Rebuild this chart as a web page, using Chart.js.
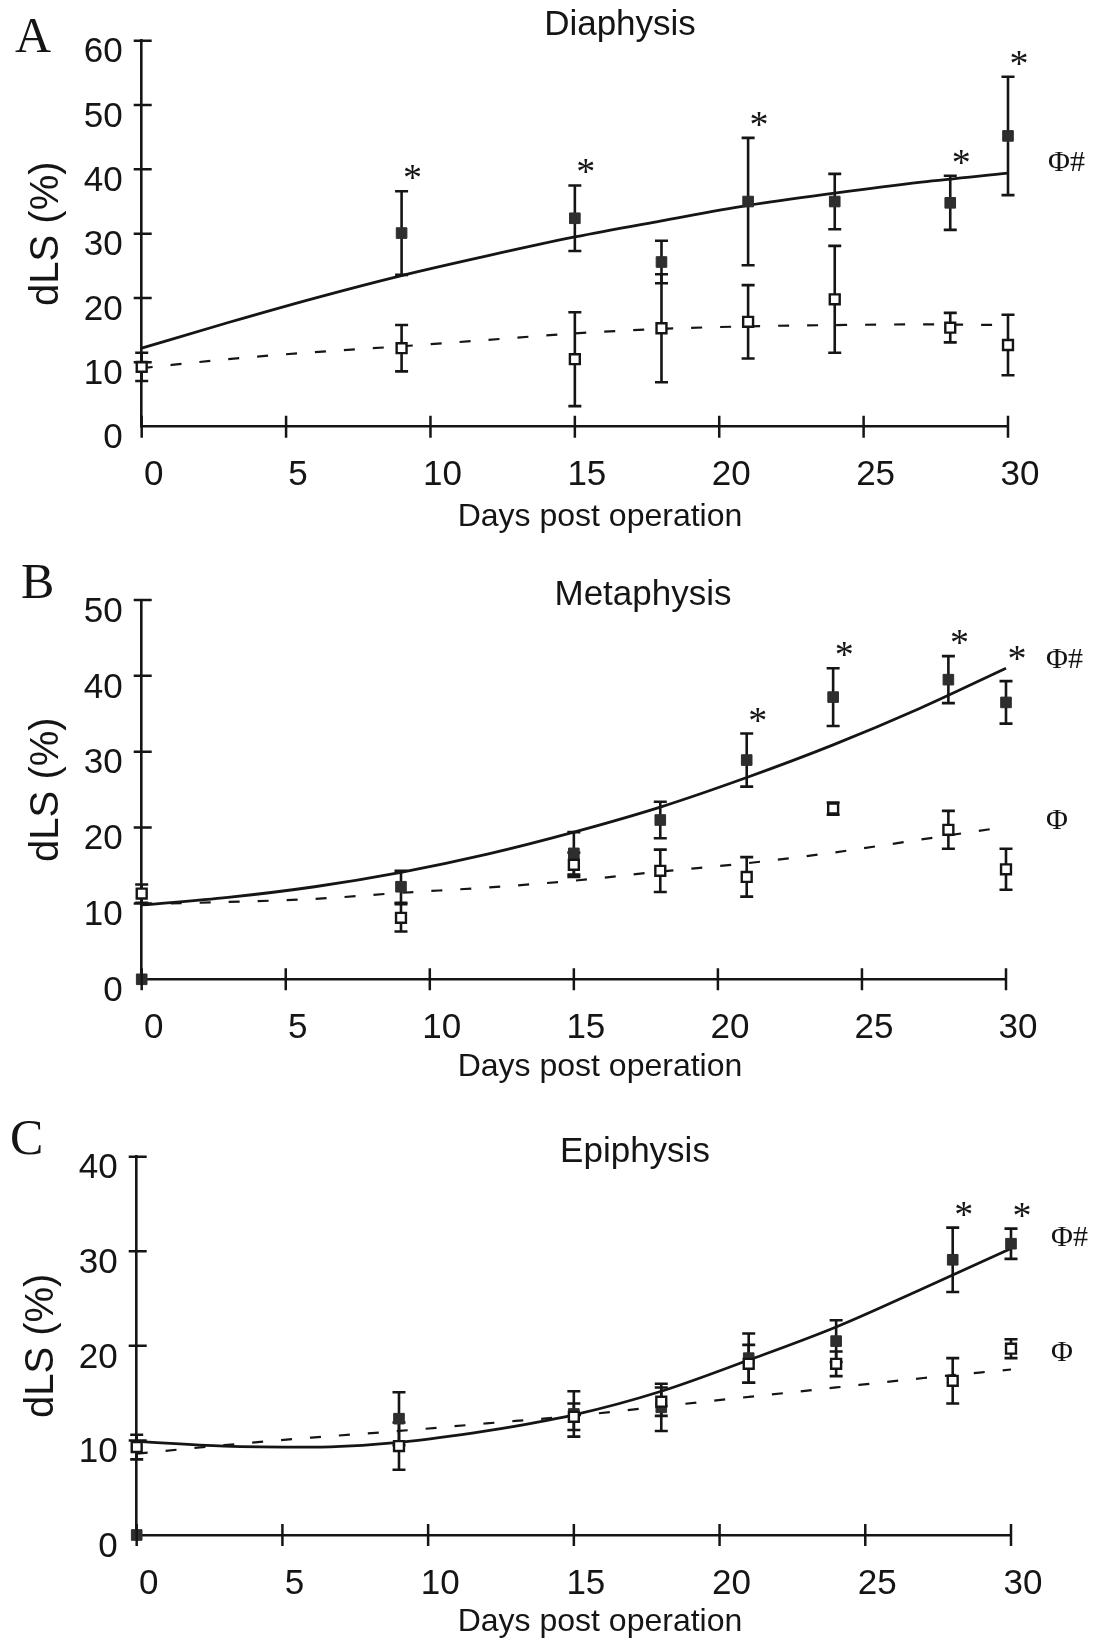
<!DOCTYPE html>
<html lang="en">
<head>
<meta charset="UTF-8">
<title>dLS after operation</title>
<script src="https://cdn.jsdelivr.net/npm/chart.js@4.4.1/dist/chart.umd.min.js"></script>
<style>
  body { margin: 0; background: #fff; width: 1100px; height: 1639px; position: relative; overflow: hidden; }
  .panel { position: absolute; left: 0; width: 1100px; }
</style>
</head>
<body>
<div class="panel" style="top:0;height:540px"><canvas id="chartA"></canvas></div>
<div class="panel" style="top:540px;height:550px"><canvas id="chartB"></canvas></div>
<div class="panel" style="top:1090px;height:549px"><canvas id="chartC"></canvas></div>
<script>
// sampling days and fit-curve sample days
const days = [0, 9, 15, 18, 21, 24, 28, 30];
const fitDays = [0, 3, 6, 9, 12, 15, 18, 21, 24, 27, 30];

// A - Diaphysis
const diaFilled    = [null, 30.1, 32.4, 25.6, 35.0, 35.0, 34.8, 45.2];
const diaFilledErr = [null, 6.5, 5.1, 3.3, 9.9, 4.3, 4.2, 9.2];
const diaOpen      = [9.3, 12.2, 10.5, 15.3, 16.3, 19.8, 15.4, 12.7];
const diaOpenErr   = [2.2, 3.6, 7.3, 8.4, 5.7, 8.3, 2.3, 4.7];
const diaSig       = [0, 1, 1, 0, 1, 0, 1, 1];
const diaFitSolid  = [12.2, 16.2, 20.0, 23.5, 26.6, 29.5, 32.0, 34.4, 36.3, 38.0, 39.4];
const diaFitDashed = [9.1, 10.5, 11.6, 12.5, 13.5, 14.5, 15.2, 15.6, 15.8, 15.9, 15.8];
const diaNotes     = [['Φ#', 41.0]];

// B - Metaphysis
const metFilled    = [0, 12.2, 16.6, 21.0, 28.9, 37.2, 39.5, 36.5];
const metFilledErr = [0, 2.1, 2.8, 2.4, 3.5, 3.8, 3.1, 2.8];
const metOpen      = [11.3, 8.1, 15.1, 14.3, 13.5, 22.5, 19.7, 14.5];
const metOpenErr   = [1.2, 1.8, 1.6, 2.8, 2.6, 0.8, 2.5, 2.7];
const metSig       = [0, 0, 0, 0, 1, 1, 1, 0];
const metFitSolid  = [9.8, 10.8, 12.2, 14.1, 16.5, 19.4, 22.7, 26.6, 30.9, 35.7, 41.0];
const metFitDashed = [9.9, 10.2, 10.6, 11.4, 12.1, 13.0, 14.2, 15.3, 16.7, 18.4, 20.1];
const metNotes     = [['Φ#', 42.1], ['Φ', 20.9]];

// C - Epiphysis
const epiFilled    = [0, 12.3, 12.8, 13.5, 18.7, 20.5, 29.1, 30.8];
const epiFilledErr = [0, 2.8, 2.4, 2.5, 2.6, 2.2, 3.4, 1.6];
const epiOpen      = [9.3, 9.4, 12.5, 14.1, 18.1, 18.1, 16.3, 19.7];
const epiOpenErr   = [1.3, 2.5, 1.4, 1.5, 2.0, 1.3, 2.4, 1.0];
const epiSig       = [0, 0, 0, 0, 0, 0, 1, 1];
const epiFitSolid  = [9.9, 9.4, 9.3, 9.8, 11.0, 12.7, 15.2, 18.5, 22.0, 26.1, 30.3];
const epiFitDashed = [8.6, 9.5, 10.3, 11.0, 11.8, 12.6, 13.6, 14.6, 15.6, 16.6, 17.5];
const epiNotes     = [['Φ#', 31.4], ['Φ', 19.2]];

const ink = '#151515';
const sans = '"Liberation Sans", Arial, sans-serif';
const serif = '"Liberation Serif", "Times New Roman", serif';
Chart.defaults.font.family = sans;
Chart.defaults.color = ink;

function pts(xs, ys) {
  return xs.map((d, i) => ({ x: d, y: ys[i] })).filter(o => o.y != null);
}

function buildPanel(id, p) {
  const extras = {
    id: 'extras_' + id,
    beforeDatasetsDraw(chart) {
      const { ctx, scales: { x, y } } = chart;
      ctx.save();
      ctx.strokeStyle = ink;
      ctx.lineWidth = 2.6;
      [[p.filled, p.filledErr], [p.open, p.openErr]].forEach(([vals, errs]) => {
        vals.forEach((v, i) => {
          if (v == null || !errs[i]) return;
          const px = x.getPixelForValue(days[i]);
          const top = y.getPixelForValue(v + errs[i]);
          const bot = y.getPixelForValue(v - errs[i]);
          ctx.beginPath();
          ctx.moveTo(px, top); ctx.lineTo(px, bot);
          ctx.moveTo(px - 6.5, top); ctx.lineTo(px + 6.5, top);
          ctx.moveTo(px - 6.5, bot); ctx.lineTo(px + 6.5, bot);
          ctx.stroke();
        });
      });
      ctx.restore();
    },
    afterDraw(chart) {
      const { ctx, chartArea: a, scales: { x, y } } = chart;
      ctx.save();
      // tick marks crossing the axes
      ctx.strokeStyle = ink;
      ctx.lineWidth = 2.5;
      ctx.beginPath();
      x.ticks.forEach(t => {
        const px = x.getPixelForValue(t.value);
        ctx.moveTo(px, a.bottom - 11); ctx.lineTo(px, a.bottom + 11);
      });
      y.ticks.forEach(t => {
        if (t.value === 0) return;
        const py = y.getPixelForValue(t.value);
        ctx.moveTo(a.left - 8, py); ctx.lineTo(a.left + 10, py);
      });
      ctx.stroke();

      ctx.fillStyle = ink;
      // significance stars
      ctx.font = '38px ' + serif;
      ctx.textAlign = 'center';
      ctx.textBaseline = 'alphabetic';
      const star = (px, py) => ctx.fillText('*', px + 11, py + 9);
      p.sig.forEach((s, i) => {
        if (!s) return;
        star(x.getPixelForValue(days[i]), y.getPixelForValue(p.filled[i] + p.filledErr[i]) - 10);
      });
      if (p.curveStar) {
        star(x.getPixelForValue(30), y.getPixelForValue(p.fitSolid[p.fitSolid.length - 1]) - 6);
      }

      // Φ / # notes at the right
      ctx.font = '30px ' + serif;
      ctx.textAlign = 'left';
      ctx.textBaseline = 'middle';
      p.notes.forEach(([txt, v]) => ctx.fillText(txt, a.right + 40, y.getPixelForValue(v)));

      // panel letter
      ctx.font = '50px ' + serif;
      ctx.textBaseline = 'alphabetic';
      ctx.fillText(p.letter, p.letterX, p.letterY);

      // title
      ctx.font = '35px ' + sans;
      ctx.textAlign = 'center';
      ctx.textBaseline = 'middle';
      ctx.fillText(p.title, p.titleX, p.titleY);

      // x axis title
      ctx.font = '32px ' + sans;
      ctx.fillText('Days post operation', 600, p.xTitleY);

      // y axis title
      ctx.translate(p.yTitleX, (a.top + a.bottom) / 2);
      ctx.rotate(-Math.PI / 2);
      ctx.font = '40px ' + sans;
      ctx.fillText('dLS (%)', 0, 0);
      ctx.restore();
    }
  };

  new Chart(document.getElementById(id), {
    type: 'scatter',
    data: {
      datasets: [
        {
          label: 'control',
          data: pts(days, p.open),
          pointStyle: 'rect',
          pointRadius: 7,
          pointBackgroundColor: '#fff',
          pointBorderColor: ink,
          pointBorderWidth: 2.4,
          clip: false
        },
        {
          label: 'operated',
          data: pts(days, p.filled),
          pointStyle: 'rect',
          pointRadius: 7.5,
          pointBackgroundColor: '#2e2e2e',
          pointBorderColor: '#2e2e2e',
          pointBorderWidth: 1,
          clip: false
        },
        {
          type: 'line',
          label: 'operated fit',
          data: pts(fitDays, p.fitSolid),
          borderColor: ink,
          borderWidth: 2.8,
          pointRadius: 0,
          cubicInterpolationMode: 'monotone',
          fill: false,
          clip: false
        },
        {
          type: 'line',
          label: 'control fit',
          data: pts(fitDays, p.fitDashed),
          borderColor: ink,
          borderWidth: 2.2,
          borderDash: [11, 18],
          pointRadius: 0,
          cubicInterpolationMode: 'monotone',
          fill: false,
          clip: false
        }
      ]
    },
    options: {
      responsive: true,
      maintainAspectRatio: false,
      animation: false,
      layout: { padding: { left: 0, top: p.top, right: p.right, bottom: 0 } },
      plugins: { legend: { display: false }, tooltip: { enabled: false } },
      scales: {
        x: {
          type: 'linear',
          min: 0,
          max: 30,
          ticks: { stepSize: 5, padding: 28, labelOffset: 12, maxRotation: 0, autoSkip: false, font: { size: 35 } },
          grid: { display: false, drawTicks: false },
          border: { color: ink, width: 2.6 },
          afterFit: s => { s.height = p.xHeight; }
        },
        y: {
          min: 0,
          max: p.yMax,
          ticks: { stepSize: 10, padding: 19, labelOffset: 12, font: { size: 35 } },
          grid: { display: false, drawTicks: false },
          border: { color: ink, width: 2.6 },
          afterFit: s => { s.width = p.yWidth; }
        }
      }
    },
    plugins: [extras]
  });
}

buildPanel('chartA', {
  letter: 'A', title: 'Diaphysis', yMax: 60,
  filled: diaFilled, filledErr: diaFilledErr, open: diaOpen, openErr: diaOpenErr,
  sig: diaSig, fitSolid: diaFitSolid, fitDashed: diaFitDashed, notes: diaNotes, curveStar: false,
  top: 40.7, right: 92, yWidth: 141.7, xHeight: 113.3,
  letterX: 15, letterY: 52, titleX: 620, titleY: 25, xTitleY: 517, yTitleX: 47
});

buildPanel('chartB', {
  letter: 'B', title: 'Metaphysis', yMax: 50,
  filled: metFilled, filledErr: metFilledErr, open: metOpen, openErr: metOpenErr,
  sig: metSig, fitSolid: metFitSolid, fitDashed: metFitDashed, notes: metNotes, curveStar: true,
  top: 60, right: 94, yWidth: 141.7, xHeight: 110.7,
  letterX: 21, letterY: 58, titleX: 643, titleY: 55, xTitleY: 527, yTitleX: 47
});

buildPanel('chartC', {
  letter: 'C', title: 'Epiphysis', yMax: 40,
  filled: epiFilled, filledErr: epiFilledErr, open: epiOpen, openErr: epiOpenErr,
  sig: epiSig, fitSolid: epiFitSolid, fitDashed: epiFitDashed, notes: epiNotes, curveStar: false,
  top: 66.7, right: 89, yWidth: 136.7, xHeight: 104,
  letterX: 10, letterY: 64, titleX: 635, titleY: 62, xTitleY: 532, yTitleX: 42
});
</script>
</body>
</html>
